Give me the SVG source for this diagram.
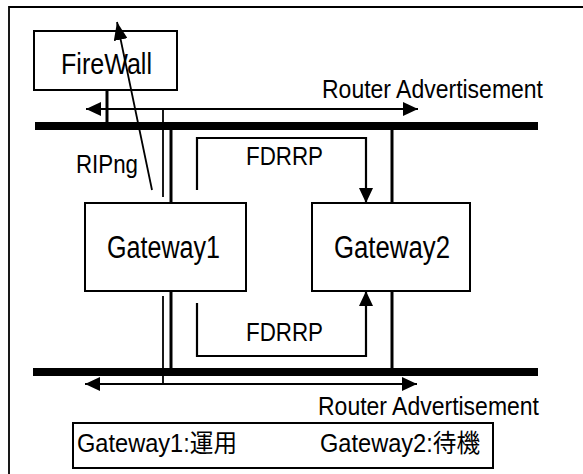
<svg xmlns="http://www.w3.org/2000/svg" width="583" height="474" viewBox="0 0 583 474">
<style>
.box{fill:#fff;stroke:#000;stroke-width:2}
.bus{fill:#000}
.thin{stroke:#000;stroke-width:1.8;fill:none}
.med{stroke:#000;stroke-width:2.2;fill:none}
.thick{stroke:#000;stroke-width:3;fill:none}
.t{font-family:"Liberation Sans","Noto Sans CJK JP",sans-serif;fill:#000}
</style>
<defs>
<marker id="arr" markerUnits="userSpaceOnUse" markerWidth="15" markerHeight="14" viewBox="0 0 15 14" refX="15" refY="7" orient="auto">
<path d="M0,0 L15,7 L0,14 z" fill="#000"/>
</marker>
<marker id="arrL" markerUnits="userSpaceOnUse" markerWidth="18" markerHeight="14" viewBox="0 0 18 14" refX="18" refY="7" orient="auto">
<path d="M0,0 L18,7 L0,14 z" fill="#000"/>
</marker>
</defs>
<rect width="583" height="474" fill="#fff"/>
<g id="frame">
<path d="M9,474 V7 H583" class="thin"/>
</g>
<g id="bus-top"><rect class="bus" x="35" y="122" width="503" height="8"/></g>
<g id="bus-bottom"><rect class="bus" x="33" y="368" width="505" height="8"/></g>
<g id="connectors">
<line class="thick" x1="107" y1="90" x2="107" y2="122"/>
<line class="thin" x1="163" y1="109" x2="163" y2="197"/>
<line class="thin" x1="163" y1="296" x2="163" y2="384"/>
<line class="thick" x1="171" y1="130" x2="171" y2="203"/>
<line class="thick" x1="171" y1="291" x2="171" y2="368"/>
<line class="thick" x1="392" y1="130" x2="392" y2="203"/>
<line class="thick" x1="392" y1="291" x2="392" y2="368"/>
<line class="thin" x1="163" y1="109" x2="86" y2="109" marker-end="url(#arr)"/>
<line class="thin" x1="163" y1="109" x2="418" y2="109" marker-end="url(#arr)"/>
<line class="thin" x1="163" y1="384" x2="85" y2="384" marker-end="url(#arr)"/>
<line class="thin" x1="163" y1="384" x2="417" y2="384" marker-end="url(#arr)"/>
<path class="med" d="M197,190 V138 H366 V203" marker-end="url(#arr)"/>
<path class="med" d="M197,303 V356 H366 V291" marker-end="url(#arr)"/>
<line class="thin" x1="152" y1="190" x2="117" y2="22" marker-end="url(#arrL)"/>
</g>
<g id="firewall">
<rect class="box" x="34" y="31" width="143" height="59" fill-opacity="0"/>
<text class="t" x="61" y="74" font-size="30" textLength="91" lengthAdjust="spacingAndGlyphs">FireWall</text>
</g>
<g id="gateway1">
<rect class="box" x="85" y="203" width="161" height="88"/>
<text class="t" x="107" y="258" font-size="31" textLength="113" lengthAdjust="spacingAndGlyphs">Gateway1</text>
</g>
<g id="gateway2">
<rect class="box" x="312" y="203" width="158" height="88"/>
<text class="t" x="334" y="258" font-size="31" textLength="116" lengthAdjust="spacingAndGlyphs">Gateway2</text>
</g>
<g id="labels">
<text class="t" x="322" y="98" font-size="25" textLength="221" lengthAdjust="spacingAndGlyphs">Router Advertisement</text>
<text class="t" x="318" y="415" font-size="25" textLength="221" lengthAdjust="spacingAndGlyphs">Router Advertisement</text>
<text class="t" x="246" y="165" font-size="25" textLength="77" lengthAdjust="spacingAndGlyphs">FDRRP</text>
<text class="t" x="246" y="341" font-size="25" textLength="77" lengthAdjust="spacingAndGlyphs">FDRRP</text>
<text class="t" x="76" y="173" font-size="25" textLength="62" lengthAdjust="spacingAndGlyphs">RIPng</text>
</g>
<g id="legend">
<rect class="box" x="73" y="423" width="420" height="45"/>
<text class="t" x="77" y="452" font-size="25" textLength="160" lengthAdjust="spacingAndGlyphs">Gateway1:運用</text>
<text class="t" x="320" y="452" font-size="25" textLength="160" lengthAdjust="spacingAndGlyphs">Gateway2:待機</text>
</g>
</svg>
